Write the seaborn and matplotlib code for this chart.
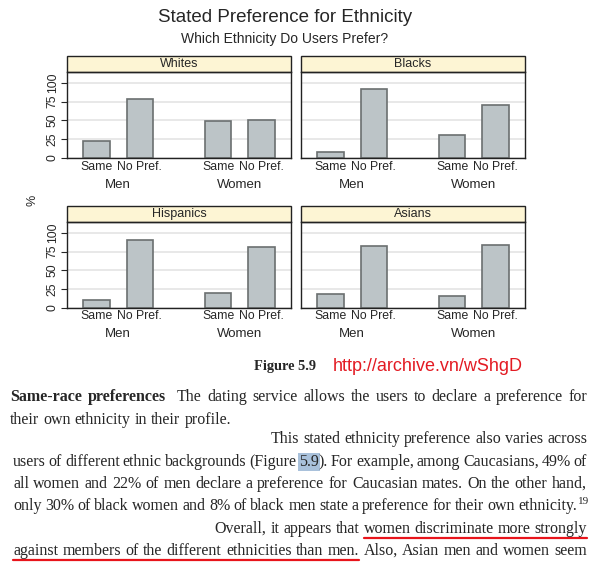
# ======================
# 1. IMPORT
# ======================
import matplotlib
matplotlib.use("Agg")
import pandas as pd
import matplotlib.pyplot as plt
import seaborn as sns
from matplotlib.patches import Rectangle
from matplotlib.lines import Line2D
from matplotlib.transforms import IdentityTransform

# ======================
# 2. DATA (%)
# ======================
ethnicities = ["Whites", "Blacks", "Hispanics", "Asians"]
genders = ["Men", "Women"]
answers = ["Same", "No Pref."]

# order: Men Same, Men No Pref., Women Same, Women No Pref.
whites = [22, 78, 49, 51]
blacks = [8, 92, 30, 70]
hispanics = [10, 90, 19, 81]
asians = [18, 82, 16, 84]

values = {"Whites": whites, "Blacks": blacks, "Hispanics": hispanics, "Asians": asians}

rows = []
for eth in ethnicities:
    for gi, g in enumerate(genders):
        for ai, a in enumerate(answers):
            rows.append({"ethnicity": eth, "gender": g, "answer": a,
                         "pos": gi * 2.8 + ai, "pct": values[eth][gi * 2 + ai]})
df = pd.DataFrame(rows)

# ======================
# 3. STYLE
# ======================
sns.set_style("white")
plt.rcParams["font.family"] = ["Liberation Sans", "DejaVu Sans"]

BAR = "#BCC4C7"
EDGE = "#6B6F70"
STRIP = "#FDF5D4"
GRID = "#E6E6E6"

W, H = 598, 573
fig = plt.figure(figsize=(W / 100, H / 100), dpi=100)


def add_ax(left, top, right, bottom):
    return fig.add_axes([left / W, 1 - bottom / H, (right - left) / W, (bottom - top) / H])


boxes = [(67, 71.7, 291, 158), (301, 71.7, 525, 158),
         (67, 221.7, 291, 307.7), (301, 221.7, 525, 307.7)]

# ======================
# 4. PANELS
# ======================
for i, eth in enumerate(ethnicities):
    ax = add_ax(*boxes[i])
    sub = df[df["ethnicity"] == eth]
    sns.barplot(data=sub, x="pos", y="pct", native_scale=True, orient="x",
                width=0.61, color=BAR, saturation=1, edgecolor=EDGE,
                linewidth=1.2, errorbar=None, ax=ax)
    ax.set_xlim(-0.68, 4.48)
    ax.set_ylim(0, 115)
    ax.set_yticks([0, 25, 50, 75, 100])
    ax.yaxis.grid(True, color=GRID, lw=1.3)
    ax.set_axisbelow(True)
    ax.set_xticks(sub["pos"].tolist())
    ax.set_xticklabels(sub["answer"].tolist())
    ax.tick_params(axis="x", length=0, pad=2, labelsize=8.8)
    ax.set_xlabel("")
    ax.set_ylabel("")
    if i % 2 == 0:
        ax.tick_params(axis="y", length=4, width=0.8, labelsize=8.8, pad=2, left=True)
        plt.setp(ax.get_yticklabels(), rotation=90, va="center")
    else:
        ax.tick_params(axis="y", left=False, labelleft=False)
    for s in ax.spines.values():
        s.set_color("#222222")
        s.set_linewidth(1)

    # group labels
    for g in genders:
        c = sub.loc[sub["gender"] == g, "pos"].mean()
        ax.text(c, -0.31, g, transform=ax.get_xaxis_transform(),
                ha="center", va="center", fontsize=9.5)

    # strip header
    sh = 15.7 / 86.3
    ax.add_patch(Rectangle((0, 1), 1, sh, transform=ax.transAxes, clip_on=False,
                           facecolor=STRIP, edgecolor="#222222", lw=1))
    ax.text(0.5, 1 + sh / 2, eth, transform=ax.transAxes, ha="center",
            va="center", fontsize=9)

fig.text(285 / W, 1 - 18 / H, "Stated Preference for Ethnicity",
         ha="center", va="center", fontsize=13.5)
fig.text(285 / W, 1 - 39 / H, "Which Ethnicity Do Users Prefer?",
         ha="center", va="center", fontsize=10)
fig.text(33 / W, 1 - 200 / H, "%", rotation=90, ha="center", va="center", fontsize=9)

# ======================
# 5. CAPTION + BODY TEXT
# ======================
renderer = fig.canvas.get_renderer()
SERIF = ["Liberation Serif", "DejaVu Serif"]


def text_w(s, **kw):
    t = fig.text(0, 0, s, transform=IdentityTransform(), **kw)
    w = t.get_window_extent(renderer).width
    t.remove()
    return w


fs = 10 * 222 / text_w("their own ethnicity in their profile.", family=SERIF, fontsize=10)
space = text_w("a a", family=SERIF, fontsize=fs) - 2 * text_w("a", family=SERIF, fontsize=fs)


def put_line(pieces, base, x0=13, x1=587, mode="justify"):
    # pieces: list of dict(t=..., kw=..., join=bool, extra=px, dy=px)
    widths = []
    for p in pieces:
        kw = dict(family=SERIF, fontsize=fs)
        kw.update(p.get("kw", {}))
        p["_kw"] = kw
        widths.append(text_w(p["t"], **kw))
    n_gaps = sum(1 for p in pieces[1:] if not p.get("join"))
    extra = sum(p.get("extra", 0) for p in pieces)
    total = sum(widths) + extra
    if mode == "justify":
        gap = (x1 - x0 - total) / max(n_gaps, 1)
        x = x0
    elif mode == "right":
        gap = space
        x = x1 - total - gap * n_gaps
    else:
        gap = space
        x = x0
    y = H - base
    spans = []
    for k, (p, w) in enumerate(zip(pieces, widths)):
        if k > 0 and not p.get("join"):
            x += gap
        fig.text(x, y + p.get("dy", 0), p["t"], transform=IdentityTransform(),
                 va="baseline", ha="left", **p["_kw"])
        spans.append((x, x + w))
        x += w + p.get("extra", 0)
    return spans


def words(s, **extra):
    return [dict(t=w, **extra) for w in s.split()]


def underline(x0, x1, base):
    fig.add_artist(Line2D([x0, x1], [H - base - 5, H - base - 5], transform=IdentityTransform(),
                          color="#E8141B", lw=1.6))


fig.text(285, H - 370, "Figure 5.9", transform=IdentityTransform(), ha="center",
         va="baseline", family=SERIF, fontweight="bold", fontsize=fs * 0.9)
fig.text(333, H - 371, "http://archive.vn/wShgD", transform=IdentityTransform(),
         ha="left", va="baseline", fontsize=13, color="#E31B23")

bold = {"fontweight": "bold"}
l1 = words("Same-race", kw=bold) + [dict(t="preferences", kw=bold, extra=6)] + \
    words("The dating service allows the users to declare a preference for")
put_line(l1, 401, x0=10)
put_line(words("their own ethnicity in their profile."), 424, x0=10, mode="left")
put_line(words("This stated ethnicity preference also varies across"), 443, mode="right")

l4 = words("users of different ethnic backgrounds (Figure") + \
    [dict(t="5.9", kw={"bbox": dict(boxstyle="square,pad=0.08", fc="#A9C1DB", ec="none")}),
     dict(t=").", join=True)] + \
    words("For example, among Caucasians, 49% of")
put_line(l4, 466)
put_line(words("all women and 22% of men declare a preference for Caucasian mates. On the other hand,"), 488)
l6 = words("only 30% of black women and 8% of black men state a preference for their own ethnicity.") + \
    [dict(t="19", join=True, dy=6, kw={"fontsize": fs * 0.7})]
put_line(l6, 510, x1=588)

l7 = words("Overall, it appears that women discriminate more strongly")
sp7 = put_line(l7, 533, mode="right")
underline(sp7[4][0], sp7[-1][1], 533)

l8 = words("against members of the different ethnicities than men. Also, Asian men and women seem")
sp8 = put_line(l8, 555)
underline(sp8[0][0], sp8[7][1], 555)

plt.savefig("out.png", dpi=100)
